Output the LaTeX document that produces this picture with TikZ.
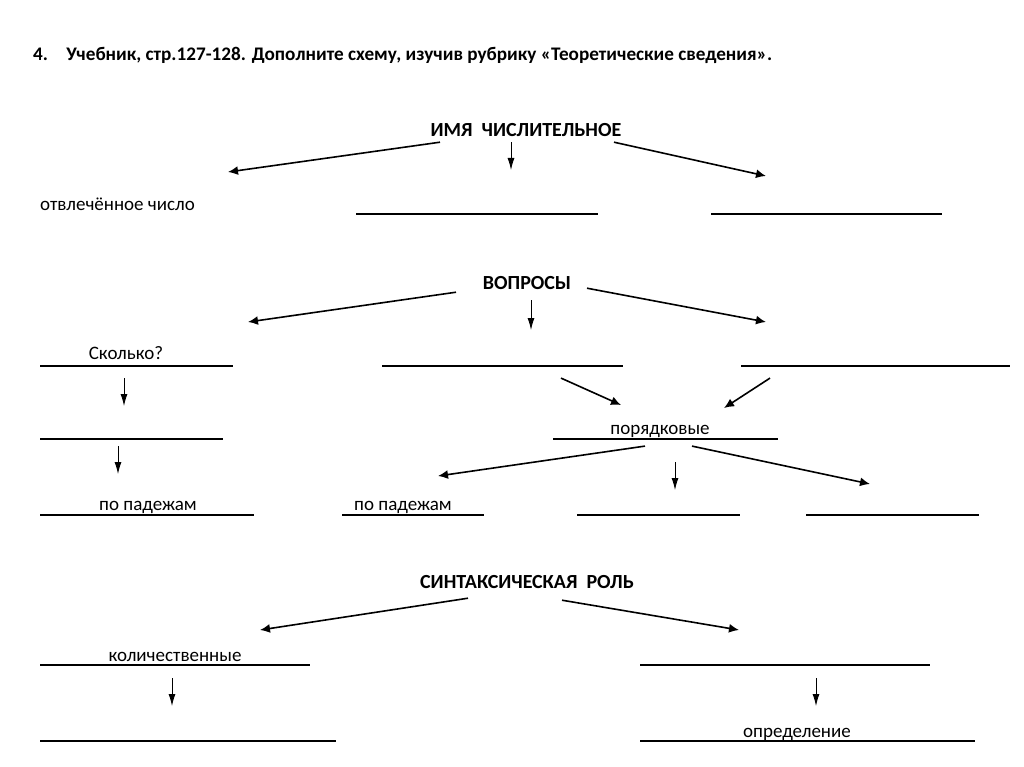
\documentclass[tikz,border=0pt]{standalone}
\usepackage{fontspec}
\setmainfont{Carlito}
\usetikzlibrary{arrows.meta}
\tikzstyle{title} = [font=\fontsize{19.2}{23}\selectfont\bfseries, inner sep=0pt, anchor=base west]
\tikzstyle{heading} = [font=\fontsize{20}{24}\selectfont\bfseries, inner sep=0pt, text depth=0pt, anchor=base]
\tikzstyle{given} = [font=\fontsize{19}{23}\selectfont, inner sep=0pt, anchor=base]
\tikzstyle{slot} = [rectangle, inner sep=0pt, minimum height=1.8pt, fill=black, draw=none]
\tikzstyle{arrow} = [line width=1.6pt, -{Latex[length=10pt,width=9pt]}]
\tikzstyle{darrow} = [line width=0.9pt, -{Latex[length=12pt,width=7pt]}]
\begin{document}
\begin{tikzpicture}[x=1pt,y=-1pt]
\fill[white] (0,0) rectangle (1024,767);
\useasboundingbox (0,0) rectangle (1024,767);
\node (task) [title] at (33,61) {4.\hspace{0.95em}Учебник, стр.127-128. Дополните схему, изучив рубрику «Теоретические сведения».};

% part of speech
\node (imya) [heading] at (526,137) {ИМЯ\ \ ЧИСЛИТЕЛЬНОЕ};
\node (abstract) [given, anchor=base west] at (40,211) {отвлечённое число};
\node (q1) [slot, minimum width=242pt] at (477,214) {};
\node (q2) [slot, minimum width=231pt] at (826.5,214) {};

% questions
\node (vopr) [heading] at (527,289) {ВОПРОСЫ};
\node (r1) [slot, minimum width=193pt] at (136.5,366) {};
\node (r2) [slot, minimum width=241pt] at (502.5,366) {};
\node (r3) [slot, minimum width=269pt] at (875.5,366) {};
\node (skolko) [given] at (126,359) {Сколько?};
\node (r4) [slot, minimum width=183pt] at (131.5,439) {};
\node (r5) [slot, minimum width=225pt] at (665.5,439) {};
\node (poryad) [given] at (660,434) {порядковые};
\node (r6) [slot, minimum width=214pt] at (147,515) {};
\node (pad1) [given] at (148,510) {по падежам};
\node (r7) [slot, minimum width=142pt] at (413,515) {};
\node (pad2) [given, anchor=base west] at (354,510) {по падежам};
\node (r8) [slot, minimum width=163pt] at (658.5,515) {};
\node (r9) [slot, minimum width=173pt] at (892.5,515) {};

% syntax role
\node (sint) [heading] at (527,588) {СИНТАКСИЧЕСКАЯ\ \ РОЛЬ};
\node (t1) [slot, minimum width=270pt] at (175,665) {};
\node (kolich) [given] at (175,661) {количественные};
\node (t2) [slot, minimum width=290pt] at (785,665) {};
\node (t3) [slot, minimum width=296pt] at (188,741) {};
\node (t4) [slot, minimum width=335pt] at (807.5,741) {};
\node (opred) [given] at (797,737) {определение};

% arrow tips
\coordinate (tA1) at (228,172);
\coordinate (tA2) at (511,170);
\coordinate (tA3) at (766,176);
\coordinate (tB1) at (248,322);
\coordinate (tB2) at (531,330);
\coordinate (tB3) at (766,322);
\coordinate (tC1) at (124,406);
\coordinate (tC2) at (118,474);
\coordinate (tD1) at (621,405);
\coordinate (tD2) at (724,408);
\coordinate (tE1) at (438,476);
\coordinate (tE2) at (675,490);
\coordinate (tE3) at (870,484);
\coordinate (tF1) at (260,630);
\coordinate (tF2) at (739,630);
\coordinate (tG1) at (172,706);
\coordinate (tG2) at (816,706);

\draw [arrow] ([shift={(-86,5)}]imya.south) -- (tA1);
\draw [darrow] ([shift={(-15,5)}]imya.south) -- (tA2);
\draw [arrow] ([shift={(88,5)}]imya.south) -- (tA3);
\draw [arrow] ([shift={(-71,3)}]vopr.south) -- (tB1);
\draw [darrow] ([shift={(4,11)}]vopr.south) -- (tB2);
\draw [arrow] ([shift={(60,-1)}]vopr.south) -- (tB3);
\draw [darrow] ([shift={(-12.5,11)}]r1.south) -- (tC1);
\draw [darrow] ([shift={(-13.5,6)}]r4.south) -- (tC2);
\draw [arrow] ([shift={(58.5,11)}]r2.south) -- (tD1);
\draw [arrow] ([shift={(-105.5,11)}]r3.south) -- (tD2);
\draw [arrow] ([shift={(-20.5,6)}]r5.south) -- (tE1);
\draw [darrow] ([shift={(9.5,22)}]r5.south) -- (tE2);
\draw [arrow] ([shift={(26.5,6)}]r5.south) -- (tE3);
\draw [arrow] ([shift={(-59,10)}]sint.south) -- (tF1);
\draw [arrow] ([shift={(35,12)}]sint.south) -- (tF2);
\draw [darrow] ([shift={(-3,12)}]t1.south) -- (tG1);
\draw [darrow] ([shift={(31,12)}]t2.south) -- (tG2);
\end{tikzpicture}
\end{document}
